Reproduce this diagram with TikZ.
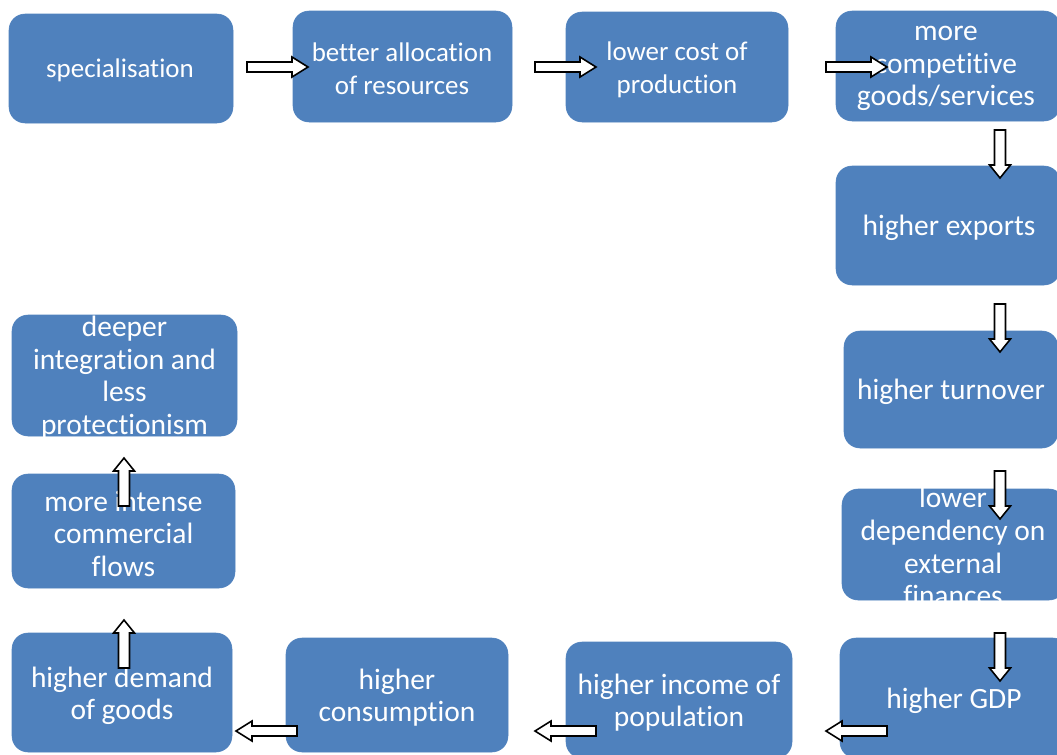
\documentclass[tikz,border=0pt]{standalone}
\usepackage{fontspec}
\setmainfont{Carlito}[Ligatures=NoCommon]
\definecolor{boxblue}{HTML}{4F81BD}
\begin{document}
\begin{tikzpicture}[x=0.75pt,y=-0.75pt,
  box/.style={fill=boxblue, draw=boxblue, rounded corners=12pt, inner sep=0pt},
  txt/.style={text=white, align=center, inner sep=0pt, yshift=-2pt, font=\fontsize{22.1}{24.4}\selectfont},
  txtsmall/.style={txt, font=\fontsize{20.2}{24.4}\selectfont},
  arrowstyle/.style={draw=black, fill=white, line width=1.2pt, line join=miter},
  harrow/.pic={\draw[arrowstyle] (0,-5) -- (45,-5) -- (45,-10) -- (61,0) -- (45,10) -- (45,5) -- (0,5) -- cycle;},
  varrow/.pic={\draw[arrowstyle] (0,-5.5) -- (35,-5.5) -- (35,-10.5) -- (48,0) -- (35,10.5) -- (35,5.5) -- (0,5.5) -- cycle;}
]
\useasboundingbox (0,0) rectangle (1057,754);
\clip (0,0) rectangle (1057,754);
% boxes
\path[box] (9,14) rectangle (233,123) node[pos=.5] (spec) {};
\path[box] (293,11) rectangle (512,122) node[pos=.5] (alloc) {};
\path[box] (566,12) rectangle (788,122) node[pos=.5] (cost) {};
\path[box] (836,11) rectangle (1060,121) node[pos=.5] (comp) {};
\path[box] (836,166) rectangle (1060,285) node[pos=.5] (exp) {};
\path[box] (844,331) rectangle (1058,448) node[pos=.5] (turn) {};
\path[box] (842,489) rectangle (1065,600) node[pos=.5] (dep) {};
\path[box] (840,638) rectangle (1069,758) node[pos=.5] (gdp) {};
\path[box] (566,642) rectangle (792,758) node[pos=.5] (inc) {};
\path[box] (286,638) rectangle (508,752) node[pos=.5] (cons) {};
\path[box] (12,633) rectangle (232,752) node[pos=.5] (dem) {};
\path[box] (12,474) rectangle (235,588) node[pos=.5] (flow) {};
\path[box] (12,315) rectangle (237,436) node[pos=.5] (integ) {};
% texts
\node[txtsmall] (t1) at (120,68) {specialisation};
\node[txtsmall] (t2) at (402,66) {better allocation\\of resources};
\node[txtsmall] (t3) at (677,67) {lower cost of\\production};
\node[txt] (t4) at (946,66) {more\\competitive\\goods/services};
\node[txt] (t5) at (949,225) {higher exports};
\node[txt] (t6) at (951,389) {higher turnover};
\node[txt] (t7) at (953,544) {lower\\dependency on\\external\\finances};
\node[txt] (t8) at (954,698) {higher GDP};
\node[txt] (t9) at (679,700) {higher income of\\population};
\node[txt] (t10) at (397,695) {higher\\consumption};
\node[txt] (t11) at (122,693) {higher demand\\of goods};
\node[txt] (t12) at (123.5,531) {more intense\\commercial\\flows};
\node[txt] (t13) at (124.5,375) {deeper\\integration and\\less\\protectionism};
% arrows
\pic at (247,67) {harrow};
\pic at (535,67) {harrow};
\pic at (826,67) {harrow};
\pic[rotate=-90] at (1000,130) {varrow};
\pic[rotate=-90] at (1000,304) {varrow};
\pic[rotate=-90] at (1000,471) {varrow};
\pic[rotate=-90] at (1000,633) {varrow};
\pic[rotate=180] at (887,731) {harrow};
\pic[rotate=180] at (596,731) {harrow};
\pic[rotate=180] at (297,731) {harrow};
\pic[rotate=90] at (124,668) {varrow};
\pic[rotate=90] at (124,506) {varrow};
\end{tikzpicture}
\end{document}
